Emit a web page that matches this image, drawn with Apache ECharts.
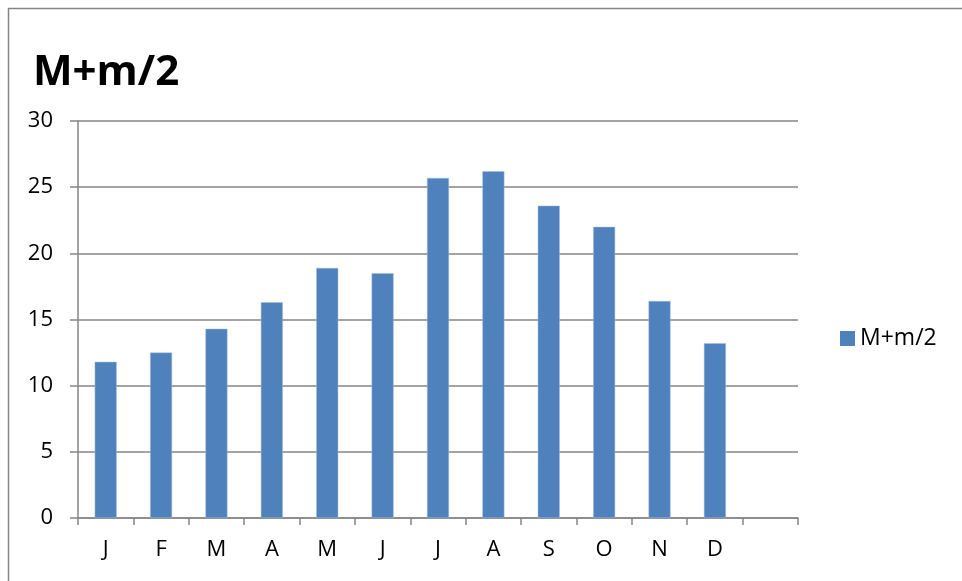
<!DOCTYPE html>
<html>
<head>
<meta charset="utf-8">
<script src="https://cdn.jsdelivr.net/npm/echarts@6/dist/echarts.min.js"></script>
<style>
html,body{margin:0;padding:0;background:#fff;}
#chart{width:962px;height:581px;}
</style>
</head>
<body>
<div id="chart"></div>
<script>
const categories = ['J','F','M','A','M','J','J','A','S','O','N','D',''];
const seriesName = 'M+m/2';
const values = [11.8, 12.5, 14.3, 16.3, 18.9, 18.5, 25.7, 26.2, 23.6, 22.0, 16.4, 13.2, null];
const yTicks = [0, 5, 10, 15, 20, 25, 30];

const chart = echarts.init(document.getElementById('chart'));
const font = 'Open Sans, Liberation Sans, sans-serif';
chart.setOption({
  animation: false,
  backgroundColor: '#fff',
  title: {
    text: 'M+m/2',
    left: 28, top: 47,
    textStyle: {fontFamily: font, fontWeight: 'bold', fontSize: 42, color: '#000'}
  },
  graphic: [{
    type: 'polyline',
    shape: {points: [[8.5, 600], [8.5, 8.5], [970, 8.5]]},
    style: {stroke: '#868686', lineWidth: 1.5, fill: null},
    silent: true
  }],
  legend: {
    data: [seriesName],
    left: 840, top: 327,
    padding: 0,
    orient: 'vertical',
    itemWidth: 15, itemHeight: 15, itemGap: 6,
    icon: 'rect',
    itemStyle: {borderWidth: 0},
    textStyle: {fontFamily: font, fontSize: 23, color: '#000', padding: [0,0,0,0]}
  },
  grid: {left: 78, right: 164, top: 121, bottom: 63, containLabel: false},
  xAxis: {
    type: 'category',
    data: categories,
    boundaryGap: true,
    axisLine: {lineStyle: {color: '#868686', width: 1.5}},
    axisTick: {show: true, alignWithLabel: false, length: 7, lineStyle: {color: '#868686', width: 1.5}},
    axisLabel: {fontFamily: font, fontSize: 22, color: '#000', margin: 21, interval: 0},
    splitLine: {show: false}
  },
  yAxis: {
    type: 'value',
    min: yTicks[0], max: yTicks[yTicks.length-1], interval: 5,
    axisLine: {show: true, lineStyle: {color: '#868686', width: 1.5}},
    axisTick: {show: true, length: 8, inside: false, lineStyle: {color: '#868686', width: 1.5}},
    axisLabel: {fontFamily: font, fontSize: 22, color: '#000', margin: 25},
    splitLine: {show: true, lineStyle: {color: '#868686', width: 1.5}}
  },
  series: [{
    name: seriesName,
    type: 'bar',
    data: values,
    barWidth: 22,
    itemStyle: {color: '#4f81bd', borderColor: '#a7bfde', borderWidth: 0.5}
  }]
});
</script>
</body>
</html>
